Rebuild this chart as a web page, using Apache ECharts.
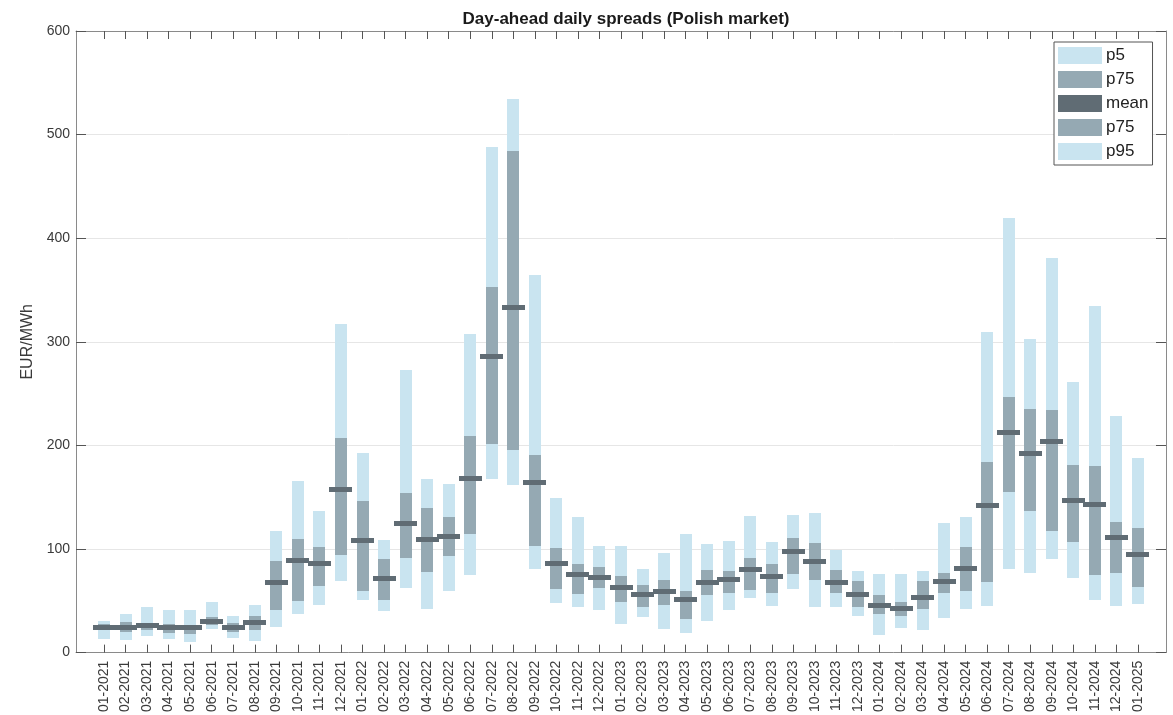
<!DOCTYPE html>
<html>
<head>
<meta charset="utf-8">
<title>Day-ahead daily spreads (Polish market)</title>
<script src="https://cdn.jsdelivr.net/npm/echarts@6/dist/echarts.min.js"></script>
<style>
  html, body { margin: 0; padding: 0; background: #fff; }
  #chart { width: 1173px; height: 715px; }
</style>
</head>
<body>
<div id="chart"></div>
<script>
var months = ['01-2021', '02-2021', '03-2021', '04-2021', '05-2021', '06-2021', '07-2021', '08-2021',
  '09-2021', '10-2021', '11-2021', '12-2021', '01-2022', '02-2022', '03-2022', '04-2022', '05-2022',
  '06-2022', '07-2022', '08-2022', '09-2022', '10-2022', '11-2022', '12-2022', '01-2023', '02-2023',
  '03-2023', '04-2023', '05-2023', '06-2023', '07-2023', '08-2023', '09-2023', '10-2023', '11-2023',
  '12-2023', '01-2024', '02-2024', '03-2024', '04-2024', '05-2024', '06-2024', '07-2024', '08-2024',
  '09-2024', '10-2024', '11-2024', '12-2024', '01-2025'];

var p5 = [13.5, 11.9, 15.7, 12.8, 10.3, 22.4, 14.1, 10.9, 24.4, 37.6, 45.6, 68.7, 50.4, 40.1, 62.3, 42.4,
  59.1, 75.1, 167.9, 162.1, 80.9, 48.2, 44, 41.4, 27.9, 34.3, 23.1, 19.3, 30.2, 40.8, 52.6, 44.9,
  61, 44, 44, 35, 17.3, 24.1, 21.5, 33.4, 41.7, 44.6, 80.9, 76.7, 89.9, 71.9, 50.4, 44.6, 47.2];
var p25 = [21.5, 19.9, 22, 19, 18.3, 26.3, 19.9, 21.5, 40.8, 49.8, 63.9, 94.1, 59.4, 50.4, 91.2, 77.7,
  93.1, 114.6, 201.6, 195.5, 102.7, 61.6, 56.8, 62.3, 48.8, 44, 46.2, 32.7, 55.2, 57.5, 60.7, 57.5,
  75.8, 69.7, 57.5, 44, 37.6, 35, 41.7, 57.8, 59.1, 68, 154.7, 136.5, 117.2, 106.3, 74.8, 76.7, 62.9];
var mean = [24.7, 24.7, 26, 23.8, 23.8, 30.5, 24.7, 28.6, 67.4, 88.9, 86.4, 157, 107.9, 71.3, 124.6, 108.8,
  112, 167.6, 285.7, 333.5, 164.4, 85.7, 75.4, 72.9, 62.6, 56.2, 59.1, 51, 68.1, 70.3, 79.9, 73.5,
  97.9, 88.3, 68.1, 56.2, 45.6, 43, 53.6, 69, 81.2, 141.6, 212.2, 192.3, 203.5, 147, 142.9, 111.4, 94.7];
var p75 = [27.9, 29.5, 28.5, 27.9, 27, 34.4, 28.6, 35.3, 88.6, 109.8, 101.8, 207, 146, 90.2, 153.8, 139.7,
  130.7, 209, 352.8, 483.8, 191, 100.8, 85.7, 82.5, 73.8, 65.5, 69.7, 59.1, 79.9, 78.7, 91.8, 85.4,
  110.4, 105.6, 79.9, 68.7, 55.2, 48.8, 68.7, 77, 101.8, 183.6, 247.2, 234.7, 234, 181.4, 180.4, 126.2, 120.4];
var p95 = [30.5, 37.6, 44, 40.8, 40.8, 48.8, 35.3, 45.6, 117.2, 166, 137, 317, 192.6, 108.5, 272.9, 167.6,
  162.8, 307.2, 488, 534.2, 364.7, 149.6, 131.3, 102.7, 102.7, 80.9, 96.6, 114.3, 105, 108.2, 132.3, 106.6,
  133.2, 134.8, 99.5, 79, 75.8, 75.8, 79, 125.2, 131.3, 309, 419.2, 302.4, 381.1, 261.3, 334.5, 228.6, 187.5];

var lightColor = '#c9e4f0';
var darkColor = '#95a9b3';
var meanColor = '#606c74';
var axisColor = '#8a8a8a';
var textColor = '#3a3a3a';
var fontFamily = '"Liberation Sans", Arial, sans-serif';

var idx = months.map(function (m, i) { return i; });

function pairs(lo, hi) {
  return idx.map(function (i) { return [i, lo[i], hi[i]]; });
}

// rectangle between two values at one month
function rangeItem(params, api) {
  var x = api.value(0);
  var a = api.coord([x, api.value(1)]);
  var b = api.coord([x, api.value(2)]);
  var w = 12;
  var y0 = Math.round(b[1]);
  var y1 = Math.round(a[1]);
  return {
    type: 'rect',
    shape: { x: Math.round(a[0] - w / 2), y: y0, width: w, height: y1 - y0 },
    style: api.style()
  };
}

// short thick bar for the mean
function meanItem(params, api) {
  var p = api.coord([api.value(0), api.value(1)]);
  var w = 23, h = 5;
  return {
    type: 'rect',
    shape: { x: Math.round(p[0] - w / 2), y: Math.round(p[1] - h / 2), width: w, height: h },
    style: api.style()
  };
}

var dom = document.getElementById('chart');
var myChart = echarts.init(dom, null, { renderer: 'canvas' });

var xAxisBase = {
  type: 'value',
  min: -1.3,
  max: 49.3,
  splitLine: { show: false },
  axisLine: { show: true, onZero: false, lineStyle: { color: axisColor, width: 1 } },
  axisTick: { show: true, inside: true, length: 8, customValues: idx, lineStyle: { color: '#555' } }
};

var yAxisBase = {
  type: 'value',
  min: 0,
  max: 600,
  interval: 100,
  axisLine: { show: true, onZero: false, lineStyle: { color: axisColor, width: 1 } },
  axisTick: { show: true, inside: true, length: 10, lineStyle: { color: '#555' } }
};

var option = {
  backgroundColor: '#fff',
  animation: false,
  textStyle: { fontFamily: fontFamily },
  title: {
    text: 'Day-ahead daily spreads (Polish market)',
    left: 621,
    textAlign: 'center',
    top: 6,
    textStyle: { fontSize: 17, fontWeight: 'bold', color: '#1a1a1a', fontFamily: fontFamily }
  },
  legend: {
    orient: 'vertical',
    left: 1054,
    top: 42,
    padding: [5, 4, 5, 4],
    itemGap: 7,
    itemWidth: 44,
    itemHeight: 17,
    icon: 'rect',
    backgroundColor: '#fff',
    borderColor: '#555',
    borderWidth: 1,
    borderRadius: 0,
    selectedMode: false,
    formatter: function (name) { return name.trim(); },
    textStyle: { fontSize: 17, color: '#222', padding: [0, 0, 0, -1], fontFamily: fontFamily },
    data: ['p5', 'p75', 'mean', 'p75 ', 'p95']
  },
  grid: { left: 76, right: 7, top: 31, bottom: 61, containLabel: false },
  xAxis: [
    Object.assign({}, xAxisBase, {
      position: 'bottom',
      axisLabel: {
        customValues: idx,
        rotate: 90,
        margin: 8,
        fontSize: 14,
        color: textColor,
        formatter: function (v) { return months[Math.round(v)]; }
      }
    }),
    Object.assign({}, xAxisBase, { position: 'top', axisLabel: { show: false } })
  ],
  yAxis: [
    Object.assign({}, yAxisBase, {
      position: 'left',
      name: 'EUR/MWh',
      nameLocation: 'middle',
      nameGap: 37,
      nameTextStyle: { fontSize: 16, color: textColor },
      axisLabel: { fontSize: 14, color: textColor, margin: 6 },
      splitLine: { show: true, lineStyle: { color: '#e6e6e6', width: 1 } }
    }),
    Object.assign({}, yAxisBase, {
      position: 'right',
      axisLabel: { show: false },
      splitLine: { show: false }
    })
  ],
  series: [
    {
      name: 'p5', type: 'custom', renderItem: rangeItem,
      itemStyle: { color: lightColor }, encode: { x: 0, y: [1, 2] },
      data: pairs(p5, p25), z: 2
    },
    {
      name: 'p75', type: 'custom', renderItem: rangeItem,
      itemStyle: { color: darkColor }, encode: { x: 0, y: [1, 2] },
      data: pairs(p25, mean), z: 3
    },
    {
      name: 'mean', type: 'custom', renderItem: meanItem,
      itemStyle: { color: meanColor }, encode: { x: 0, y: 1 },
      data: idx.map(function (i) { return [i, mean[i]]; }), z: 5
    },
    {
      name: 'p75 ', type: 'custom', renderItem: rangeItem,
      itemStyle: { color: darkColor }, encode: { x: 0, y: [1, 2] },
      data: pairs(mean, p75), z: 3
    },
    {
      name: 'p95', type: 'custom', renderItem: rangeItem,
      itemStyle: { color: lightColor }, encode: { x: 0, y: [1, 2] },
      data: pairs(p75, p95), z: 2
    }
  ]
};

if (option && typeof option === 'object') {
  myChart.setOption(option);
}

window.addEventListener('resize', myChart.resize);
</script>
</body>
</html>
